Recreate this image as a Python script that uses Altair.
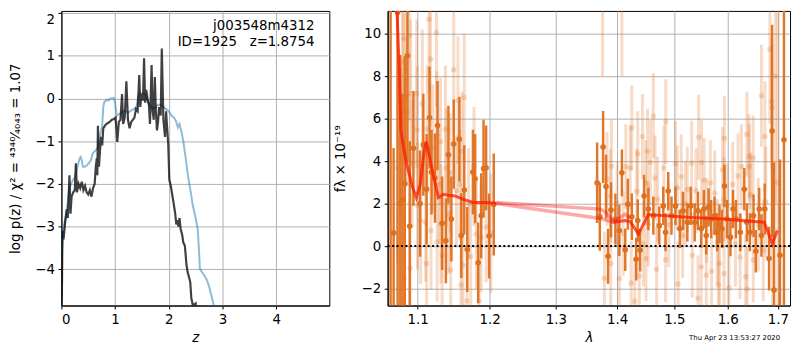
import altair as alt
import pandas as pd

# ---------------- left panel: redshift probability ----------------
z_pz = [0.00, 0.01, 0.02, 0.04, 0.07, 0.10, 0.12, 0.15, 0.17, 0.19, 0.22, 0.25, 0.27, 0.29,
        0.32, 0.35, 0.38, 0.41, 0.44, 0.47, 0.50, 0.53, 0.56, 0.59, 0.62, 0.64, 0.66, 0.67,
        0.68, 0.70, 0.72, 0.74, 0.76, 0.78, 0.82, 0.86, 0.90, 0.94, 0.98, 1.01, 1.04, 1.07,
        1.10, 1.13, 1.15, 1.18, 1.21, 1.24, 1.27, 1.30, 1.33, 1.36, 1.39, 1.42, 1.45, 1.47,
        1.49, 1.52, 1.54, 1.56, 1.58, 1.61, 1.63, 1.65, 1.66, 1.68, 1.70, 1.72, 1.74, 1.76,
        1.78, 1.80, 1.82, 1.85, 1.87, 1.90, 1.93, 1.95, 1.97, 1.99, 2.01, 2.04, 2.07, 2.09,
        2.12, 2.14, 2.16, 2.18, 2.20, 2.22, 2.25, 2.27, 2.30, 2.33, 2.35, 2.38, 2.40, 2.42,
        2.45, 2.50, 2.52]
logp_pz = [-4.9, -4.5, -3.1, -3.3, -2.9, -2.6, -2.8, -1.8, -2.7, -2.3, -2.2, -2.15, -1.52, -2.2,
           -2.0, -2.1, -1.95, -2.15, -2.05, -2.2, -2.25, -2.15, -2.3, -2.1, -2.0, -1.6, -1.4, -1.8,
           -0.64, -1.6, -1.2, -0.9, -1.1, -0.7, -0.62, -0.58, -0.55, -0.5, -0.48, -0.45, -1.02, -0.55,
           -0.5, 0.1, -0.6, -0.45, 0.4, -0.5, -0.7, -0.55, -0.5, -0.45, -0.25, -0.3, 0.55, -0.2,
           0.1, -0.05, 0.94, -0.1, 0.2, -0.05, -0.15, -0.6, -0.15, 0.78, -0.3, -0.5, 0.5, -0.3,
           -0.75, -0.55, -0.2, -0.4, 1.17, -0.5, -0.9, -0.3, -0.7, -1.06, -1.9, -2.06, -2.3, -2.45,
           -2.7, -2.95, -2.85, -3.0, -2.8, -3.05, -3.2, -3.37, -3.45, -3.9, -4.06, -4.2, -4.3, -4.68,
           -4.85, -4.8, -5.2]

z_prior = [0.01, 0.03, 0.06, 0.09, 0.12, 0.15, 0.18, 0.22, 0.25, 0.28, 0.31, 0.34, 0.36, 0.38,
           0.40, 0.44, 0.49, 0.55, 0.58, 0.61, 0.65, 0.68, 0.70, 0.73, 0.76, 0.78, 0.80, 0.85,
           0.88, 0.91, 0.95, 0.98, 1.00, 1.03, 1.06, 1.10, 1.15, 1.20, 1.25, 1.30, 1.35, 1.40,
           1.43, 1.47, 1.52, 1.56, 1.60, 1.64, 1.68, 1.72, 1.76, 1.80, 1.85, 1.90, 1.95, 2.00,
           2.05, 2.10, 2.14, 2.17, 2.20, 2.24, 2.27, 2.31, 2.36, 2.41, 2.45, 2.50, 2.54, 2.56,
           2.58, 2.62, 2.66, 2.71, 2.75, 2.80, 2.84, 2.88]
logp_prior = [-3.6, -3.1, -2.9, -2.7, -2.4, -2.1, -2.0, -1.9, -1.85, -1.7, -1.55, -1.4, -1.37, -1.45,
              -1.6, -1.6, -1.55, -1.45, -1.3, -1.25, -1.2, -1.15, -0.95, -0.8, -0.65, -0.2, -0.08, -0.03,
              -0.05, 0.0, 0.0, 0.01, -0.1, -0.4, -0.38, -0.35, -0.3, -0.3, -0.33, -0.28, -0.25, -0.2,
              0.05, 0.12, 0.12, 0.1, -0.05, -0.15, -0.2, -0.25, -0.2, -0.15, -0.15, -0.2, -0.25, -0.3,
              -0.4, -0.45, -0.55, -0.68, -0.6, -0.8, -1.0, -1.35, -1.83, -2.2, -2.52, -2.8, -3.06, -3.5,
              -3.99, -4.07, -4.14, -4.25, -4.4, -4.65, -4.85, -5.1]

label_name = "j003548m4312"
label_id = "ID=1925\u00a0\u00a0\u00a0z=1.8754"
stamp = "Thu Apr 23 13:53:27 2020"

# ---------------- right panel: spectrum ----------------
g102_wave = [1.0648, 1.0687, 1.0738, 1.0773, 1.0802, 1.0832, 1.0867, 1.0897, 1.0946, 1.1034,
             1.1077, 1.1121, 1.1161, 1.1188, 1.1234, 1.1269, 1.1332, 1.1383, 1.1418, 1.1459,
             1.1492, 1.1570, 1.1597, 1.1639, 1.1681, 1.1761, 1.1793, 1.1836, 1.1879, 1.1913,
             1.1950, 1.1993, 1.2061]
g102_flux = [12.0, 0.62, 11.0, 2.0, 2.17, 2.93, 8.96, 0.93, 4.6, 2.0,
             4.77, 2.67, 6.04, 3.48, 3.2, 5.67, 1.07, 0.25, 4.3, 1.27,
             4.8, 5.03, 0.5, 2.64, -0.16, 3.48, 3.17, -0.79, 1.43, 3.65,
             3.68, 0.47, 1.96]
g102_err = [16.0, 4.0, 14.0, 7.0, 5.0, 6.0, 5.0, 4.0, 2.7, 2.5,
            2.4, 2.6, 2.4, 2.0, 2.1, 2.1, 2.2, 2.0, 2.3, 2.0,
            2.1, 2.0, 2.0, 2.1, 2.0, 2.0, 2.1, 1.9, 2.0, 2.3,
            2.0, 2.0, 2.4]

g141_wave = [1.3665, 1.3709, 1.3764, 1.3813, 1.3846, 1.3896, 1.3969, 1.4036, 1.4080, 1.4137,
             1.4181, 1.4249, 1.4325, 1.4352, 1.4393, 1.4462, 1.4537, 1.4625, 1.4730, 1.4801,
             1.4842, 1.4890, 1.4949, 1.5021, 1.5100, 1.5160, 1.5238, 1.5300, 1.5374, 1.5435,
             1.5496, 1.5546, 1.5589, 1.5634, 1.5683, 1.5747, 1.5796, 1.5841, 1.5891, 1.5937,
             1.5986, 1.6052, 1.6102, 1.6160, 1.6245, 1.6323, 1.6374, 1.6433, 1.6506, 1.6551,
             1.6619, 1.6665, 1.6731, 1.6819, 1.6880, 1.6920, 1.7042, 1.7124]
g141_flux = [2.98, 1.38, 4.66, 2.80, -0.48, 1.70, 1.27, 0.73, 3.45, -0.17,
             1.97, 1.38, -0.62, 1.20, -0.20, 2.36, 1.74, 1.43, 0.96, 1.89,
             0.65, 2.59, 1.43, 1.89, 0.81, 1.66, 1.12, 1.89, 1.12, 1.66,
             0.81, 1.74, 0.50, 1.82, 1.27, 1.43, 0.65, 1.04, 0.81, 2.83,
             1.27, 0.42, 1.74, 1.27, 0.65, 2.67, 1.12, 0.65, 1.43, -0.25,
             1.74, 0.50, 1.74, -0.59, 5.42, -2.07, -0.43, 5.0]
g141_err = [1.9, 1.6, 1.7, 1.5, 1.3, 1.3, 1.2, 1.2, 1.1, 1.0,
            1.2, 1.1, 1.0, 1.0, 1.0, 1.0, 1.0, 0.9, 0.9, 0.9,
            0.9, 0.9, 0.9, 0.9, 0.9, 0.9, 0.9, 0.9, 0.9, 0.9,
            0.9, 0.9, 0.9, 0.9, 0.9, 0.9, 0.9, 0.9, 0.9, 1.0,
            0.9, 0.9, 0.9, 0.9, 0.9, 1.0, 0.9, 0.9, 1.0, 1.0,
            1.0, 1.0, 1.2, 1.5, 5.0, 6.0, 4.5, 20.0]

faint102_wave = [1.0738, 1.0785, 1.0802, 1.0815, 1.0823, 1.0844, 1.0860, 1.0890, 1.0902, 1.0910,
                 1.0930, 1.0989, 1.0995, 1.1000, 1.1042, 1.1064, 1.1108, 1.1121, 1.1130, 1.1153,
                 1.1174, 1.1180, 1.1205, 1.1254, 1.1260, 1.1264, 1.1290, 1.1310, 1.1316, 1.1332,
                 1.1377, 1.1390, 1.1420, 1.1444, 1.1450, 1.1492, 1.1530, 1.1551, 1.1575, 1.1593,
                 1.1607, 1.1620, 1.1639, 1.1677, 1.1700, 1.1730, 1.1777, 1.1809, 1.1850, 1.1877,
                 1.1950, 1.2020]
faint102_flux = [3.68, 4.9, 8.65, 9.78, -1.52, 7.0, 6.3, 9.9, -1.05, 7.17,
                 3.9, 7.17, 5.47, 1.9, 1.2, 6.7, 1.12, -0.82, 5.5, 10.67,
                 8.8, 0.73, 4.6, 10.05, 5.23, 0.19, 2.9, 4.92, 1.04, -0.43,
                 5.5, 3.68, 1.5, 3.45, -1.13, 8.3, 2.6, 6.86, 2.9, -1.83,
                 4.46, -0.9, 7.0, -2.58, 2.0, -0.5, 3.76, 0.57, -2.58, 0.42,
                 0.9, 0.6]
faint102_err = [4.5, 3.5, 4.0, 4.5, 3.5, 4.0, 3.5, 4.0, 3.5, 3.5,
                3.0, 3.5, 3.0, 3.0, 3.0, 3.5, 2.8, 2.8, 3.0, 3.5,
                3.2, 2.8, 3.0, 3.5, 3.0, 2.8, 2.8, 3.0, 2.8, 2.8,
                3.0, 2.8, 2.8, 2.8, 2.8, 3.0, 2.6, 3.0, 2.6, 2.6,
                2.8, 2.6, 3.0, 2.6, 2.6, 2.6, 2.8, 2.6, 2.6, 2.6,
                2.6, 2.8]

faint141_wave = [1.3755, 1.3785, 1.3829, 1.3886, 1.3892, 1.3903, 1.4000, 1.4036, 1.4080, 1.4100,
                 1.4147, 1.4222, 1.4239, 1.4249, 1.4300, 1.4335, 1.4352, 1.4379, 1.4434, 1.4450,
                 1.4490, 1.4497, 1.4521, 1.4537, 1.4573, 1.4625, 1.4655, 1.4682, 1.4700, 1.4811,
                 1.4842, 1.4846, 1.4900, 1.5021, 1.5056, 1.5068, 1.5127, 1.5150, 1.5200, 1.5238,
                 1.5318, 1.5329, 1.5400, 1.5435, 1.5447, 1.5496, 1.5502, 1.5550, 1.5589, 1.5600,
                 1.5669, 1.5691, 1.5750, 1.5800, 1.5819, 1.5843, 1.5900, 1.5924, 1.5930, 1.5937,
                 1.6000, 1.6024, 1.6097, 1.6150, 1.6200, 1.6240, 1.6266, 1.6349, 1.6374, 1.6382,
                 1.6415, 1.6420, 1.6450, 1.6497, 1.6500, 1.6600, 1.6665, 1.6700, 1.6735, 1.6752,
                 1.6835, 1.6870, 1.6882, 1.6890, 1.6950, 1.7000]
faint141_flux = [12.0, -1.52, 3.17, 2.36, -0.82, 3.76, 2.0, -1.52, 12.2, 0.6,
                 3.73, 3.68, -1.75, 5.57, -2.61, 2.58, 4.35, -1.41, 5.16, 0.1,
                 2.98, -0.59, 4.46, 1.04, 3.94, 6.13, 3.2, -1.09, 2.2, 3.68,
                 -0.64, 5.85, 1.0, 3.88, 2.75, -1.79, 3.26, 0.5, 2.0, 2.67,
                 3.91, -0.43, 2.6, -2.45, 5.12, -0.98, 3.94, 3.1, -1.37, 1.2,
                 2.98, -1.18, 2.5, 0.2, -1.83, -0.82, 3.6, 2.2, -1.29, 5.08,
                 1.9, -1.96, 2.9, 0.1, 3.3, -0.51, 3.73, -1.44, 5.26, -2.02,
                 4.22, 3.73, 2.4, 4.15, -0.67, 1.0, 7.08, -0.2, 5.16, 2.08,
                 9.27, 6.79, 6.52, 0.19, 8.0, 3.0]
faint141_err = [4.0, 2.2, 2.2, 2.2, 2.2, 2.2, 2.0, 2.0, 4.2, 2.0,
                2.0, 2.0, 2.0, 2.0, 2.0, 2.0, 2.0, 2.0, 2.0, 2.0,
                2.0, 2.0, 2.0, 2.0, 2.0, 2.0, 2.0, 2.0, 2.0, 2.0,
                2.0, 2.0, 2.0, 2.0, 2.0, 2.0, 2.0, 2.0, 2.0, 2.0,
                2.0, 2.0, 2.0, 2.0, 2.0, 2.0, 2.0, 2.0, 2.0, 2.0,
                2.0, 2.0, 2.0, 2.0, 2.0, 2.0, 2.0, 2.0, 2.0, 2.0,
                2.0, 2.0, 2.0, 2.0, 2.0, 2.0, 2.0, 2.0, 2.0, 2.0,
                2.0, 2.0, 2.0, 2.0, 2.0, 2.2, 2.4, 2.4, 2.6, 2.6,
                3.5, 3.0, 3.0, 3.0, 6.0, 8.0]

model102_wave = [1.0700, 1.0760, 1.0780, 1.0843, 1.0929, 1.0984, 1.1036, 1.1081, 1.1116, 1.1161,
                 1.1214, 1.1283, 1.1350, 1.1419, 1.1510, 1.1626, 1.1767, 1.1958, 1.2102]
model102_flux = [14.0, 8.26, 5.47, 4.07, 2.83, 2.28, 2.9, 4.22, 4.92, 4.22,
                 3.29, 2.28, 2.44, 2.39, 2.36, 2.2, 2.05, 2.05, 2.02]
conn_up_wave = [1.2102, 1.3721, 1.3803, 1.3941, 1.4137, 1.4222]
conn_up_flux = [2.05, 1.74, 1.6, 1.15, 1.5, 1.3]
conn_lo_wave = [1.2102, 1.3721, 1.3941]
conn_lo_flux = [2.0, 1.3, 1.1]
model141_wave = [1.3941, 1.4137, 1.4222, 1.4364, 1.4537, 1.5286, 1.5907, 1.6720, 1.6886, 1.6987]
model141_flux = [1.12, 1.2, 1.15, 0.57, 1.48, 1.35, 1.27, 1.12, 0.11, 0.73]

# ---------------- build tables ----------------
df_pz = pd.DataFrame({"z": z_pz, "logp": logp_pz})
df_prior = pd.DataFrame({"z": z_prior, "logp": logp_prior})


def err_table(w, f, e):
    d = pd.DataFrame({"wave": w, "flux": f, "err": e})
    d["lo"] = d["flux"] - d["err"]
    d["hi"] = d["flux"] + d["err"]
    return d


df_strong = pd.concat([err_table(g102_wave, g102_flux, g102_err),
                       err_table(g141_wave, g141_flux, g141_err)])
df_faint = pd.concat([err_table(faint102_wave, faint102_flux, faint102_err),
                      err_table(faint141_wave, faint141_flux, faint141_err)])
df_model = pd.concat([
    pd.DataFrame({"wave": model102_wave, "flux": model102_flux, "seg": "g102"}),
    pd.DataFrame({"wave": model141_wave, "flux": model141_flux, "seg": "g141"}),
])
df_conn = pd.concat([
    pd.DataFrame({"wave": conn_up_wave, "flux": conn_up_flux, "seg": "up"}),
    pd.DataFrame({"wave": conn_lo_wave, "flux": conn_lo_flux, "seg": "lo"}),
])

FONT = "DejaVu Sans"
ORANGE = "#de7020"

# ---------------- left chart ----------------
xs_l = alt.Scale(domain=[0, 4.99], nice=False, zero=False)
ys_l = alt.Scale(domain=[-4.85, 2.05], nice=False, zero=False)
x_l = alt.X("z:Q", scale=xs_l,
            axis=alt.Axis(values=[0, 1, 2, 3, 4], title="z", titleFontStyle="italic",
                          titlePadding=5))
y_l = alt.Y("logp:Q", scale=ys_l,
            axis=alt.Axis(values=[-4, -3, -2, -1, 0, 1, 2],
                          title="log p(z) / χ² = ⁴³⁴⁰⁄₄₀₄₃ = 1.07",
                          titlePadding=12, labelFlush=3))

prior_line = alt.Chart(df_prior).mark_line(color="#1f77b4", opacity=0.5, strokeWidth=2,
                                           clip=True).encode(x=x_l, y=y_l)
pz_line = alt.Chart(df_pz).mark_line(color="black", opacity=0.75, strokeWidth=2.2,
                                     clip=True).encode(x=x_l, y=y_l)
txt1 = alt.Chart(pd.DataFrame({"t": [label_name]})).mark_text(
    align="right", baseline="middle", fontSize=13.5, font=FONT, color="black"
).encode(x=alt.value(256), y=alt.value(15), text="t:N")
txt2 = alt.Chart(pd.DataFrame({"t": [label_id]})).mark_text(
    align="right", baseline="middle", fontSize=13.5, font=FONT, color="black"
).encode(x=alt.value(256), y=alt.value(31), text="t:N")

left = alt.layer(prior_line, pz_line, txt1, txt2).properties(width=271, height=298)

# ---------------- right chart ----------------
xs_r = alt.Scale(type="log", domain=[1.061, 1.725], nice=False, zero=False)
ys_r = alt.Scale(domain=[-2.8, 11.07], nice=False, zero=False)
x_ax = alt.Axis(values=[1.1, 1.2, 1.3, 1.4, 1.5, 1.6, 1.7], format=".1f", title="λ",
                titleFontStyle="italic", titlePadding=5)
y_ax = alt.Axis(values=[-2, 0, 2, 4, 6, 8, 10], title="fλ × 10⁻¹⁹", titlePadding=14)

faint_bars = alt.Chart(df_faint).mark_rule(color=ORANGE, opacity=0.25, strokeWidth=3,
                                           clip=True).encode(
    x=alt.X("wave:Q", scale=xs_r, axis=x_ax),
    y=alt.Y("lo:Q", scale=ys_r, axis=y_ax), y2="hi:Q")
faint_pts = alt.Chart(df_faint).mark_circle(color=ORANGE, opacity=0.25, size=30,
                                            clip=True).encode(
    x=alt.X("wave:Q", scale=xs_r), y=alt.Y("flux:Q", scale=ys_r))
strong_bars = alt.Chart(df_strong).mark_rule(color=ORANGE, opacity=0.95, strokeWidth=2.5,
                                             clip=True).encode(
    x=alt.X("wave:Q", scale=xs_r), y=alt.Y("lo:Q", scale=ys_r), y2="hi:Q")
strong_pts = alt.Chart(df_strong).mark_circle(color=ORANGE, opacity=1, size=32,
                                              clip=True).encode(
    x=alt.X("wave:Q", scale=xs_r), y=alt.Y("flux:Q", scale=ys_r))
zero_line = alt.Chart(pd.DataFrame({"y": [0]})).mark_rule(
    color="black", strokeDash=[2, 2.5], strokeWidth=2).encode(y=alt.Y("y:Q", scale=ys_r))
conn_lines = alt.Chart(df_conn).mark_line(color="red", opacity=0.35, strokeWidth=3.5,
                                          clip=True).encode(
    x=alt.X("wave:Q", scale=xs_r), y=alt.Y("flux:Q", scale=ys_r), detail="seg:N")
model_lines = alt.Chart(df_model).mark_line(color="#ff1a00", opacity=0.75, strokeWidth=3,
                                            clip=True).encode(
    x=alt.X("wave:Q", scale=xs_r), y=alt.Y("flux:Q", scale=ys_r), detail="seg:N")
stamp_txt = alt.Chart(pd.DataFrame({"t": [stamp]})).mark_text(
    align="right", baseline="middle", fontSize=7, font=FONT, color="black"
).encode(x=alt.value(397), y=alt.value(331), text="t:N")

right = alt.layer(faint_bars, faint_pts, strong_bars, strong_pts, zero_line,
                  conn_lines, model_lines, stamp_txt).properties(width=407, height=298)

chart = alt.hconcat(left, right, spacing=59, bounds="flush").properties(
    padding={"left": 0, "top": 0, "right": 0, "bottom": 0}
).configure_view(
    stroke="black", strokeWidth=1
).configure_axis(
    grid=True, gridColor="#b0b0b0", gridWidth=1,
    domainColor="black", tickColor="black", tickSize=3.5, tickWidth=1,
    labelFont=FONT, labelFontSize=13.5, labelColor="black", labelPadding=3.5,
    titleFont=FONT, titleFontSize=13.5, titleFontWeight="normal", titleColor="black"
)

chart.save("out.html", embed_options={"renderer": "svg", "actions": False})
